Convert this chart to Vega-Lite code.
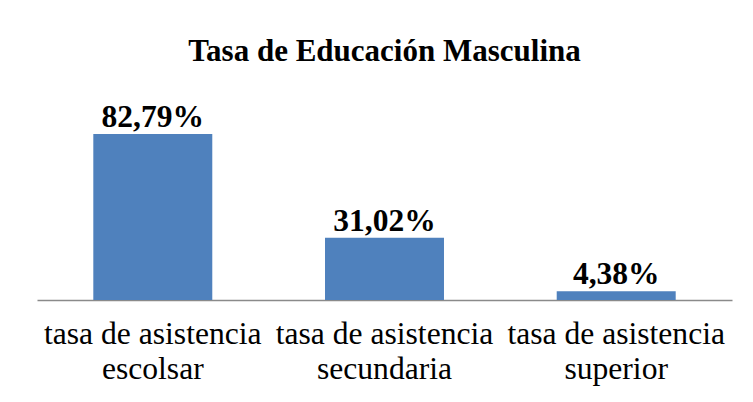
{
  "$schema": "https://vega.github.io/schema/vega-lite/v6.json",
  "width": 695,
  "height": 200.5,
  "autosize": "none",
  "padding": {"left": 37, "top": 99.5, "right": 21, "bottom": 102},
  "background": "white",
  "title": {
    "text": "Tasa de Educación Masculina",
    "font": "Liberation Serif",
    "fontSize": 31,
    "fontWeight": "bold",
    "color": "black",
    "baseline": "alphabetic",
    "anchor": "middle",
    "frame": "group",
    "offset": 7.5
  },
  "data": {
    "values": [
      {"categoria": "tasa de asistencia escolsar", "tasa": 0.8279},
      {"categoria": "tasa de asistencia secundaria", "tasa": 0.3102},
      {"categoria": "tasa de asistencia superior", "tasa": 0.0438}
    ]
  },
  "encoding": {
    "x": {
      "field": "categoria",
      "type": "nominal",
      "sort": null,
      "scale": {"paddingInner": 0.4865, "paddingOuter": 0.243},
      "axis": {
        "title": null,
        "labelAngle": 0,
        "ticks": false,
        "domainColor": "#8a8a8a",
        "domainWidth": 1.5,
        "labelFont": "Liberation Serif",
        "labelFontSize": 31.6,
        "labelColor": "black",
        "labelPadding": 18,
        "labelLineHeight": 35,
        "labelLimit": 0,
        "labelExpr": "[slice(datum.label, 0, 18), slice(datum.label, 19)]"
      }
    },
    "y": {
      "field": "tasa",
      "type": "quantitative",
      "scale": {"domain": [0, 1]},
      "axis": null
    }
  },
  "layer": [
    {"mark": {"type": "bar", "color": "#4f81bd"}},
    {
      "mark": {
        "type": "text",
        "baseline": "alphabetic",
        "dy": -7,
        "font": "Liberation Serif",
        "fontSize": 31.5,
        "fontWeight": "bold",
        "color": "black"
      },
      "encoding": {"text": {"field": "tasa", "type": "quantitative", "format": ".2%"}}
    }
  ],
  "config": {
    "view": {"stroke": null},
    "locale": {
      "number": {"decimal": ",", "thousands": ".", "grouping": [3], "currency": ["", " €"]}
    }
  }
}
